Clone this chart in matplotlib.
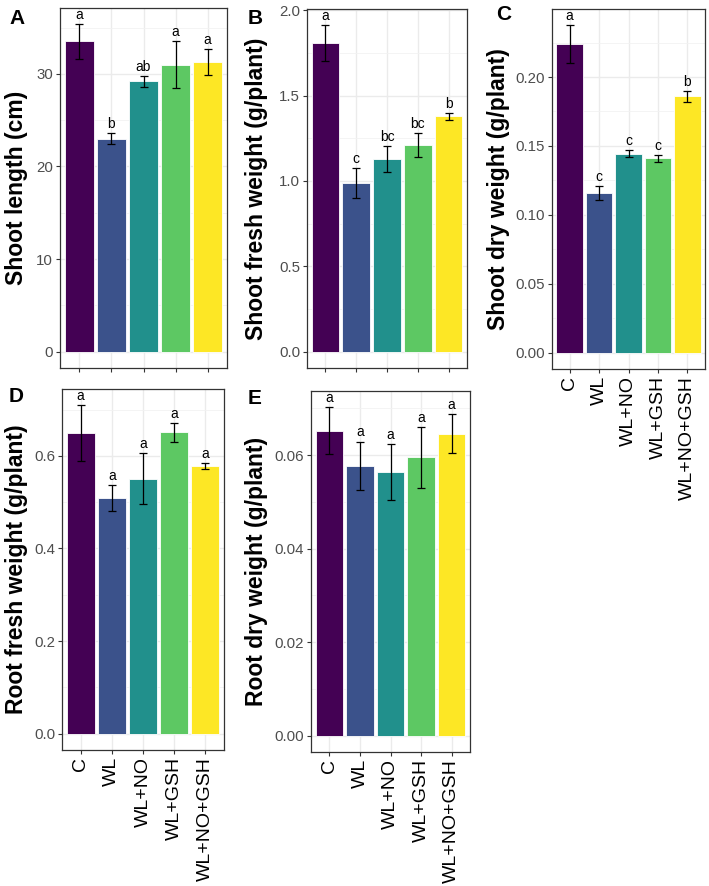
import matplotlib
matplotlib.use("Agg")
import matplotlib.pyplot as plt
from matplotlib.ticker import MultipleLocator
import numpy as np

plt.rcParams["font.family"] = ["Liberation Sans", "DejaVu Sans"]

GROUPS = ["C", "WL", "WL+NO", "WL+GSH", "WL+NO+GSH"]
COLORS = ["#440154", "#3B528B", "#21908C", "#5DC863", "#FDE725"]

shoot_length     = [33.5, 23.0, 29.2, 31.0, 31.3]
shoot_length_se  = [1.85, 0.6, 0.6, 2.55, 1.4]
shoot_length_let = ["a", "b", "ab", "a", "a"]

shoot_fw     = [1.807, 0.988, 1.128, 1.210, 1.378]
shoot_fw_se  = [0.105, 0.090, 0.075, 0.072, 0.022]
shoot_fw_let = ["a", "c", "bc", "bc", "b"]

shoot_dw     = [0.224, 0.116, 0.1443, 0.141, 0.186]
shoot_dw_se  = [0.0135, 0.005, 0.0025, 0.0023, 0.004]
shoot_dw_let = ["a", "c", "c", "c", "b"]

root_fw     = [0.649, 0.508, 0.551, 0.651, 0.578]
root_fw_se  = [0.060, 0.028, 0.055, 0.020, 0.007]
root_fw_let = ["a", "a", "a", "a", "a"]

root_dw     = [0.0652, 0.0577, 0.0563, 0.0595, 0.0646]
root_dw_se  = [0.0050, 0.0052, 0.0060, 0.0065, 0.0042]
root_dw_let = ["a", "a", "a", "a", "a"]

W, H = 709, 886


def box(x0, y0, x1, y1):
    """pixel box (top-left origin) -> figure fraction rect"""
    return [x0 / W, 1 - y1 / H, (x1 - x0) / W, (y1 - y0) / H]


def panel(fig, rect, vals, errs, letters, ylabel, tag, step, fmt,
          show_xlabels, label_x, tag_xy):
    ax = fig.add_axes(rect)
    x = np.arange(len(GROUPS)) + 1
    ax.bar(x, vals, width=0.9, color=COLORS, edgecolor="white", linewidth=0.6, zorder=2)
    ax.errorbar(x, vals, yerr=errs, fmt="none", ecolor="black",
                elinewidth=0.9, capsize=2.6, capthick=0.9, zorder=3)
    for xi, v, e, l in zip(x, vals, errs, letters):
        ax.annotate(l, (xi, v + e), xytext=(0, 1.5), textcoords="offset points",
                    ha="center", va="bottom", fontsize=10)

    top = max(v + e for v, e in zip(vals, errs))
    ax.set_ylim(-0.05 * top, 1.05 * top)
    ax.set_xlim(0.4, len(GROUPS) + 0.6)
    ax.yaxis.set_major_locator(MultipleLocator(step))
    ax.yaxis.set_minor_locator(MultipleLocator(step / 2))
    ax.yaxis.set_major_formatter(plt.FuncFormatter(lambda v, p: fmt.format(v)))
    ax.set_xticks(x)
    if show_xlabels:
        ax.set_xticklabels(GROUPS, rotation=90)
    else:
        ax.set_xticklabels([])

    ax.grid(which="major", color="#EBEBEB", linewidth=1.0, zorder=0)
    ax.grid(which="minor", axis="y", color="#F2F2F2", linewidth=0.6, zorder=0)
    ax.set_axisbelow(True)
    ax.tick_params(which="major", length=3, width=0.8, color="#333333",
                   labelsize=10.8, labelcolor="#4D4D4D", pad=2)
    ax.tick_params(axis="x", labelcolor="black", labelsize=14)
    ax.tick_params(which="minor", length=0)
    for s in ax.spines.values():
        s.set_color("#333333")
        s.set_linewidth(0.9)

    cy = 1 - (rect[1] + rect[3] / 2)
    fig.text(label_x / W, 1 - cy, ylabel, rotation=90, ha="center", va="center",
             fontsize=16.5, fontweight="bold")
    fig.text(tag_xy[0] / W, 1 - tag_xy[1] / H, tag, ha="left", va="center",
             fontsize=15, fontweight="bold")
    return ax


fig = plt.figure(figsize=(W / 100, H / 100), dpi=100)

panel(fig, box(60, 8, 227, 368), shoot_length, shoot_length_se, shoot_length_let,
      "Shoot length (cm)", "A", 10, "{:.0f}", False, 17, (9, 18))
panel(fig, box(307, 9, 467, 368), shoot_fw, shoot_fw_se, shoot_fw_let,
      "Shoot fresh weight (g/plant)", "B", 0.5, "{:.1f}", False, 256, (248, 18))
panel(fig, box(552, 9, 705, 369), shoot_dw, shoot_dw_se, shoot_dw_let,
      "Shoot dry weight (g/plant)", "C", 0.05, "{:.2f}", True, 498, (496, 14))
panel(fig, box(62, 389, 224, 750), root_fw, root_fw_se, root_fw_let,
      "Root fresh weight (g/plant)", "D", 0.2, "{:.1f}", True, 17, (9, 396))
panel(fig, box(311, 391, 470, 752), root_dw, root_dw_se, root_dw_let,
      "Root dry weight (g/plant)", "E", 0.02, "{:.2f}", True, 257, (248, 398))

fig.savefig("out.png", dpi=100)
